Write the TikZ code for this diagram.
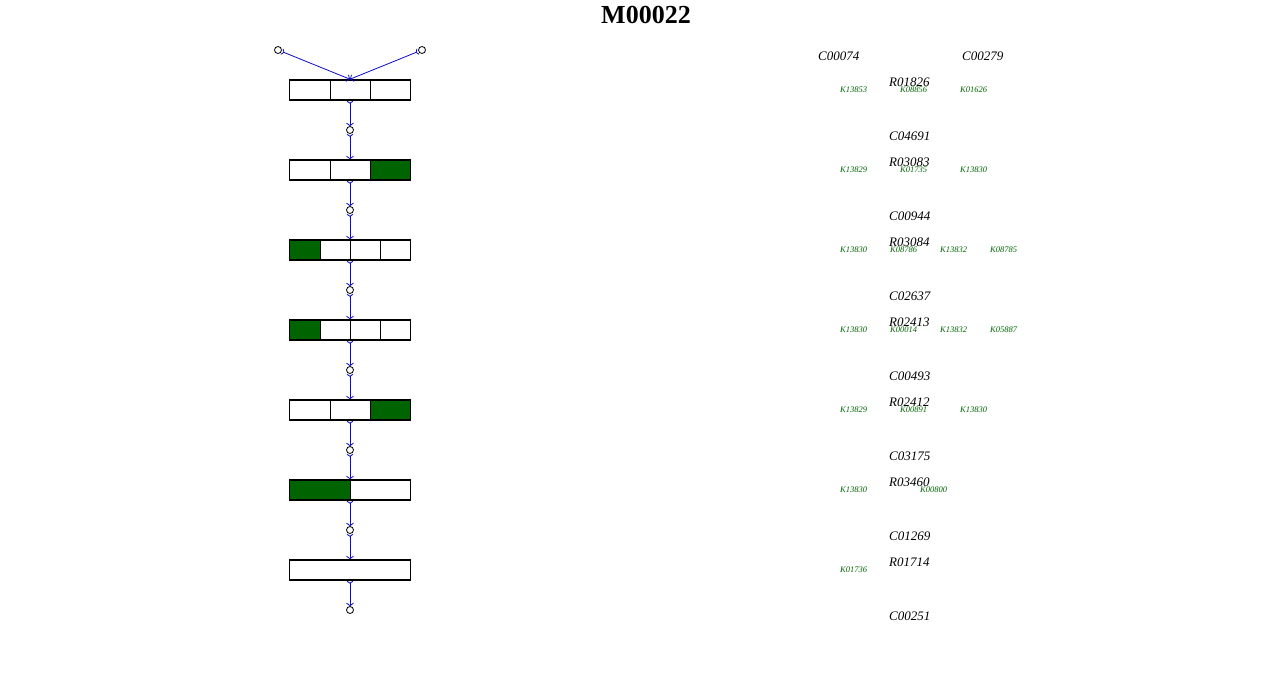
\documentclass[tikz,border=0pt]{standalone}
\usepackage{fontspec}
\setmainfont{Liberation Serif}
\usetikzlibrary{arrows.meta}
\definecolor{kgreen}{RGB}{0,100,0}
\definecolor{linkblue}{RGB}{10,10,200}

\begin{document}
\begin{tikzpicture}[x=1pt,y=-1pt,
  cpd/.style={circle,draw,fill=white,inner sep=0pt,minimum size=7pt,line width=0.8pt},
  rbox/.style={draw,line width=1.6pt,minimum width=121pt,minimum height=20pt,inner sep=0pt},
  link/.style={linkblue,line width=0.8pt,{Straight Barb[reversed,length=2pt,width=6pt]}-{Straight Barb[length=2.5pt,width=7pt]}},
  cname/.style={font=\itshape\fontsize{13}{13}\selectfont,anchor=west,inner sep=0pt},
  kname/.style={font=\itshape\fontsize{8.5}{8.5}\selectfont,text=kgreen,anchor=west,inner sep=0pt}]

\useasboundingbox (0,0) rectangle (1280,680);

\node[font=\bfseries\fontsize{26}{26}\selectfont] (title) at (646,15) {M00022};

% green parts of the boxes
\fill[kgreen] (370,160) rectangle (410.5,180);
\fill[kgreen] (289.5,240) rectangle (320,260);
\fill[kgreen] (289.5,320) rectangle (320,340);
\fill[kgreen] (370,400) rectangle (410.5,420);
\fill[kgreen] (289.5,480) rectangle (350,500);

% boxes
\node[rbox] (b1) at (350,90) {};
\node[rbox] (b2) at (350,170) {};
\node[rbox] (b3) at (350,250) {};
\node[rbox] (b4) at (350,330) {};
\node[rbox] (b5) at (350,410) {};
\node[rbox] (b6) at (350,490) {};
\node[rbox] (b7) at (350,570) {};

\draw (330,80) -- (330,100);
\draw (370,80) -- (370,100);
\draw (330,160) -- (330,180);
\draw (370,160) -- (370,180);
\draw (320,240) -- (320,260);
\draw (350,240) -- (350,260);
\draw (380,240) -- (380,260);
\draw (320,320) -- (320,340);
\draw (350,320) -- (350,340);
\draw (380,320) -- (380,340);
\draw (330,400) -- (330,420);
\draw (370,400) -- (370,420);
\draw (350,480) -- (350,500);

% compounds
\node[cpd] (c0a) at (278,50) {};
\node[cpd] (c0b) at (422,50) {};
\node[cpd] (c1) at (350,130) {};
\node[cpd] (c2) at (350,210) {};
\node[cpd] (c3) at (350,290) {};
\node[cpd] (c4) at (350,370) {};
\node[cpd] (c5) at (350,450) {};
\node[cpd] (c6) at (350,530) {};
\node[cpd] (c7) at (350,610) {};

\draw[link] (c0a) -- (b1.north);
\draw[link] (c0b) -- (b1.north);
\draw[link] (b1.south) -- (c1);
\draw[link] (c1) -- (b2.north);
\draw[link] (b2.south) -- (c2);
\draw[link] (c2) -- (b3.north);
\draw[link] (b3.south) -- (c3);
\draw[link] (c3) -- (b4.north);
\draw[link] (b4.south) -- (c4);
\draw[link] (c4) -- (b5.north);
\draw[link] (b5.south) -- (c5);
\draw[link] (c5) -- (b6.north);
\draw[link] (b6.south) -- (c6);
\draw[link] (c6) -- (b7.north);
\draw[link] (b7.south) -- (c7);

% names
\node[cname] (C00074) at (818,56) {C00074};
\node[cname] (C00279) at (962,56) {C00279};
\node[cname] (R01826) at (889,82) {R01826};
\node[kname] (k11) at (840,90) {K13853};
\node[kname] (k12) at (900,90) {K08856};
\node[kname] (k13) at (960,90) {K01626};

\node[cname] (C04691) at (889,136) {C04691};
\node[cname] (R03083) at (889,162) {R03083};
\node[kname] (k21) at (840,170) {K13829};
\node[kname] (k22) at (900,170) {K01735};
\node[kname] (k23) at (960,170) {K13830};

\node[cname] (C00944) at (889,216) {C00944};
\node[cname] (R03084) at (889,242) {R03084};
\node[kname] (k31) at (840,250) {K13830};
\node[kname] (k32) at (890,250) {K08786};
\node[kname] (k33) at (940,250) {K13832};
\node[kname] (k34) at (990,250) {K08785};

\node[cname] (C02637) at (889,296) {C02637};
\node[cname] (R02413) at (889,322) {R02413};
\node[kname] (k41) at (840,330) {K13830};
\node[kname] (k42) at (890,330) {K00014};
\node[kname] (k43) at (940,330) {K13832};
\node[kname] (k44) at (990,330) {K05887};

\node[cname] (C00493) at (889,376) {C00493};
\node[cname] (R02412) at (889,402) {R02412};
\node[kname] (k51) at (840,410) {K13829};
\node[kname] (k52) at (900,410) {K00891};
\node[kname] (k53) at (960,410) {K13830};

\node[cname] (C03175) at (889,456) {C03175};
\node[cname] (R03460) at (889,482) {R03460};
\node[kname] (k61) at (840,490) {K13830};
\node[kname] (k62) at (920,490) {K00800};

\node[cname] (C01269) at (889,536) {C01269};
\node[cname] (R01714) at (889,562) {R01714};
\node[kname] (k71) at (840,570) {K01736};

\node[cname] (C00251) at (889,616) {C00251};

\end{tikzpicture}
\end{document}
